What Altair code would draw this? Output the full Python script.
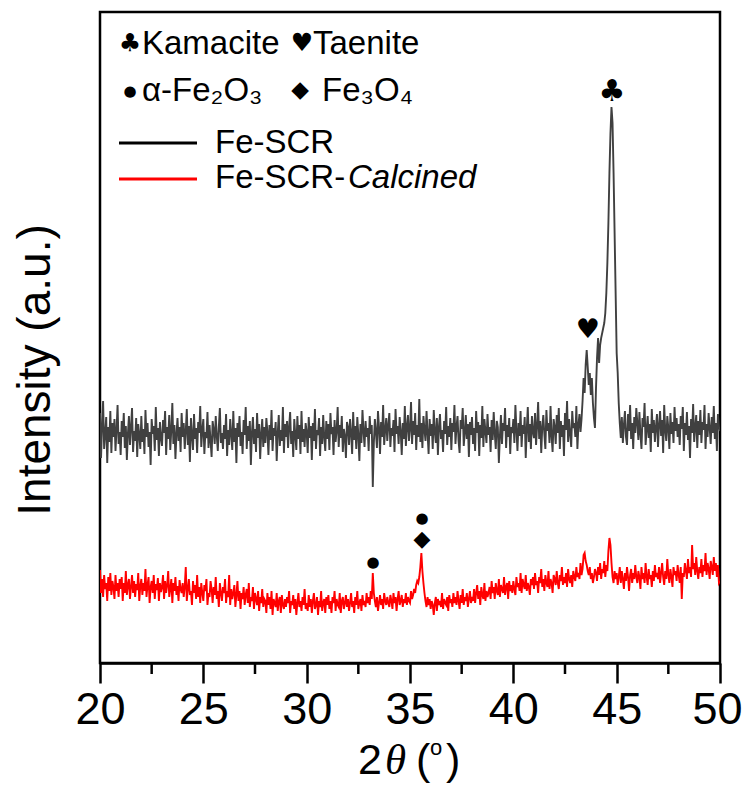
import altair as alt
import numpy as np
import pandas as pd

# ---- data (intensity in arbitrary units) ----
two_theta_start = 20.0
two_theta_step = 0.05

fe_scr = [
    250, 205, 238, 262, 214, 229, 246, 200, 236, 221, 252, 210, 240, 226, 244, 212, 233, 258, 219, 231,
    208, 242, 226, 250, 215, 237, 203, 229, 247, 218, 236, 255, 211, 232, 222, 245, 206, 239, 228, 214,
    247, 221, 234, 209, 253, 226, 240, 216, 231, 198, 244, 229, 237, 212, 256, 223, 235, 207, 241, 225,
    217, 243, 230, 252, 208, 236, 224, 248, 213, 233, 260, 219, 238, 204, 229, 245, 222, 236, 211, 250,
    226, 240, 214, 232, 254, 218, 237, 201, 245, 228, 213, 249, 224, 235, 210, 241, 230, 257, 216, 233,
    244, 209, 231, 225, 251, 215, 238, 222, 206, 242, 233, 219, 247, 227, 212, 236, 255, 220, 230, 214,
    238, 224, 249, 207, 233, 218, 244, 229, 213, 252, 221, 235, 200, 240, 226, 247, 217, 231, 209, 243,
    228, 256, 214, 237, 222, 242, 198, 230, 246, 219, 234, 211, 250, 225, 239, 204, 229, 244, 216, 236,
    220, 245, 231, 208, 238, 223, 253, 212, 235, 227, 241, 202, 230, 248, 217, 233, 222, 256, 210, 239,
    226, 242, 215, 236, 251, 219, 232, 206, 244, 228, 213, 247, 224, 238, 209, 252, 221, 234, 216, 240,
    231, 210, 246, 225, 237, 203, 240, 222, 254, 214, 233, 228, 245, 207, 236, 219, 248, 226, 212, 242,
    224, 239, 213, 250, 229, 236, 208, 243, 221, 232, 256, 216, 238, 225, 247, 211, 234, 227, 205, 241,
    236, 218, 244, 230, 209, 251, 223, 237, 214, 246, 228, 202, 239, 220, 253, 232, 216, 242, 226, 235,
    212, 247, 229, 238, 176, 220, 244, 231, 215, 252, 236, 209, 241, 226, 258, 218, 233, 245, 222, 238,
    250, 216, 235, 227, 243, 211, 254, 229, 237, 219, 246, 232, 208, 240, 224, 257, 217, 236, 248, 222,
    234, 261, 219, 242, 228, 250, 213, 238, 226, 264, 221, 240, 215, 247, 233, 222, 252, 230, 209, 244,
    227, 239, 214, 253, 231, 220, 245, 208, 236, 249, 224, 233, 211, 242, 229, 256, 218, 237, 226, 245,
    213, 240, 231, 258, 219, 236, 247, 222, 210, 243, 234, 255, 217, 230, 248, 224, 239, 206, 241, 228,
    246, 219, 235, 212, 252, 230, 241, 207, 238, 225, 257, 216, 244, 232, 220, 249, 228, 236, 211, 243,
    223, 251, 230, 214, 242, 236, 200, 227, 248, 219, 240, 232, 255, 215, 238, 226, 245, 209, 236, 230,
    244, 220, 258, 233, 212, 240, 227, 252, 216, 238, 229, 246, 205, 234, 256, 221, 239, 214, 247, 231,
    225, 250, 218, 237, 261, 224, 242, 210, 236, 248, 229, 214, 253, 232, 240, 220, 257, 227, 211, 244,
    236, 219, 248, 230, 255, 214, 242, 226, 238, 207, 250, 233, 262, 221, 244, 229, 216, 252, 235, 240,
    226, 257, 214, 238, 249, 231, 244, 262, 285, 270, 298, 313, 296, 278, 290, 268, 285, 260, 245, 235,
    275, 305, 325, 300, 318, 325, 330, 335, 340, 350, 370, 400, 440, 490, 530, 556, 540, 490, 430, 370,
    310, 290, 260, 240, 225, 246, 220, 238, 252, 226, 218, 249, 232, 258, 224, 240, 214, 246, 230, 255,
    240, 223, 251, 229, 214, 245, 236, 260, 218, 233, 247, 225, 239, 211, 254, 230, 243, 221, 236, 249,
    216, 238, 252, 227, 243, 210, 258, 233, 222, 247, 235, 214, 250, 229, 241, 220, 256, 232, 245, 226,
    239, 218, 247, 234, 256, 212, 240, 228, 251, 223, 237, 205, 244, 230, 259, 221, 236, 248, 215, 242,
    228, 253, 220, 241, 233, 258, 214, 239, 226, 250, 235, 219, 246, 230, 257, 224, 240, 212, 249, 236,
    232,
]

fe_scr_calcined = [
    93, 70, 84, 66, 88, 74, 80, 62, 86, 72, 90, 68, 82, 76, 64, 88, 72, 80, 66, 84,
    74, 86, 62, 80, 70, 92, 68, 78, 84, 64, 76, 88, 70, 82, 66, 79, 73, 90, 62, 77,
    84, 68, 80, 72, 94, 66, 78, 86, 60, 76, 82, 70, 88, 64, 79, 73, 85, 62, 80, 71,
    76, 88, 64, 82, 70, 78, 92, 66, 74, 84, 60, 80, 72, 86, 68, 77, 62, 83, 74, 70,
    80, 66, 76, 96, 62, 74, 84, 68, 72, 58, 82, 70, 78, 64, 88, 66, 76, 60, 80, 70,
    62, 78, 72, 84, 58, 70, 66, 82, 74, 60, 76, 68, 86, 64, 72, 56, 80, 70, 62, 76,
    70, 84, 60, 72, 66, 88, 58, 74, 64, 70, 78, 56, 68, 82, 62, 72, 54, 70, 64, 76,
    58, 68, 74, 60, 80, 56, 66, 62, 76, 54, 70, 64, 58, 72, 52, 66, 60, 74, 56, 64,
    62, 50, 70, 58, 66, 54, 72, 48, 64, 60, 56, 70, 52, 62, 66, 50, 68, 58, 54, 64,
    56, 66, 60, 72, 50, 62, 58, 68, 54, 64, 48, 60, 70, 56, 62, 52, 66, 58, 74, 54,
    60, 52, 68, 56, 64, 50, 62, 70, 54, 58, 66, 48, 62, 56, 72, 52, 60, 64, 50, 66,
    58, 68, 54, 62, 50, 66, 60, 72, 52, 64, 58, 56, 70, 50, 62, 66, 54, 60, 68, 56,
    64, 52, 60, 70, 56, 62, 50, 66, 58, 72, 54, 60, 64, 52, 68, 58, 62, 56, 70, 60,
    66, 58, 72, 64, 90, 70, 62, 56, 66, 52, 60, 68, 58, 64, 54, 70, 62, 58, 66, 60,
    56, 68, 62, 54, 70, 60, 66, 52, 64, 72, 58, 62, 68, 56, 64, 60, 70, 58, 66, 62,
    60, 72, 64, 68, 74, 70, 78, 82, 80, 86, 96, 110, 92, 80, 70, 62, 56, 66, 58, 64,
    54, 62, 58, 48, 60, 66, 52, 64, 58, 62, 56, 70, 54, 64, 60, 58, 66, 52, 68, 60,
    64, 56, 70, 60, 66, 58, 72, 62, 54, 68, 60, 74, 58, 66, 62, 70, 56, 64, 72, 60,
    66, 62, 74, 60, 70, 78, 64, 72, 58, 76, 68, 64, 80, 62, 72, 66, 70, 76, 64, 82,
    70, 76, 64, 80, 72, 68, 84, 66, 78, 74, 70, 86, 68, 76, 80, 64, 82, 72, 78, 70,
    82, 74, 68, 86, 76, 80, 72, 90, 70, 84, 78, 74, 88, 72, 80, 76, 68, 84, 78, 86,
    74, 90, 78, 82, 70, 86, 80, 94, 76, 84, 72, 88, 80, 76, 92, 74, 84, 80, 70, 88,
    84, 78, 92, 80, 74, 88, 82, 96, 78, 86, 80, 90, 76, 94, 84, 80, 88, 76, 92, 86,
    82, 96, 86, 90, 84, 100, 88, 94, 108, 110, 102, 98, 92, 88, 96, 84, 90, 80, 86, 94,
    90, 82, 96, 88, 100, 84, 94, 90, 102, 86, 98, 92, 112, 125, 118, 100, 86, 80, 92, 84,
    90, 78, 86, 96, 80, 92, 84, 74, 90, 82, 96, 86, 72, 88, 94, 80, 90, 84, 98, 86,
    80, 92, 86, 74, 96, 84, 90, 80, 100, 86, 78, 94, 84, 88, 76, 92, 82, 98, 86, 90,
    84, 96, 80, 90, 100, 86, 78, 92, 84, 104, 88, 80, 94, 86, 76, 96, 88, 92, 82, 98,
    88, 80, 96, 64, 90, 86, 100, 92, 84, 104, 90, 96, 86, 118, 94, 100, 88, 106, 92, 84,
    96, 90, 104, 86, 98, 92, 110, 88, 100, 94, 84, 102, 96, 88, 106, 92, 100, 86, 98, 80,
    82,
]

series_names = ["Fe-SCR", "Fe-SCR-Calcined"]
series_colors = ["#404040", "#ff0000"]

x_major_ticks = [20, 25, 30, 35, 40, 45, 50]
x_minor_ticks = [22.5, 27.5, 32.5, 37.5, 42.5, 47.5]

peak_club_x, peak_club_y = [44.77], [571]
peak_heart_x, peak_heart_y = [43.61], [333]
peak_dot_x, peak_dot_y = [33.21, 35.58], [101, 145]
peak_diamond_x, peak_diamond_y = [35.58], [124]

# ---- tables ----
def series_frame(values, name):
    tt = np.round(two_theta_start + two_theta_step * np.arange(len(values)), 3)
    return pd.DataFrame({"two_theta": tt, "intensity": values, "series": name})


df = pd.concat([series_frame(fe_scr, series_names[0]),
                series_frame(fe_scr_calcined, series_names[1])])
df_minor = pd.DataFrame({"x": x_minor_ticks})
one = pd.DataFrame({"k": [0]})

FONT = "Liberation Sans, Arial, sans-serif"
SYM = "DejaVu Sans"

xscale = alt.Scale(domain=[20, 50], nice=False, zero=False)
yscale = alt.Scale(domain=[0, 651], nice=False, zero=False)

lines = alt.Chart(df).mark_line(strokeWidth=1.9, clip=True).encode(
    x=alt.X("two_theta:Q", scale=xscale,
            axis=alt.Axis(values=x_major_ticks, tickSize=20, tickWidth=2.5,
                          tickColor="black", domainColor="black", domainWidth=2.5,
                          labelFontSize=45, labelFont=FONT, labelColor="black",
                          labelPadding=4, labelFlush=False, grid=False, title=None,
                          labelOffset={"condition": {"test": "datum.value == 50", "value": -3}, "value": 0},
                          format="d")),
    y=alt.Y("intensity:Q", scale=yscale, axis=None),
    color=alt.Color("series:N", scale=alt.Scale(domain=series_names, range=series_colors), legend=None),
    detail="series:N",
)

minor = alt.Chart(df_minor).mark_rule(color="black", strokeWidth=2.5).encode(
    x=alt.X("x:Q", scale=xscale), y=alt.value(651), y2=alt.value(662)
)


def peak_marks(xs, ys, sym, size):
    d = pd.DataFrame({"x": xs, "y": ys})
    return alt.Chart(d).mark_text(text=sym, font=SYM, fontSize=size, baseline="middle",
                                  align="center", color="black").encode(
        x=alt.X("x:Q", scale=xscale), y=alt.Y("y:Q", scale=yscale))


peaks = [
    peak_marks(peak_club_x, peak_club_y, "\u2663", 30),
    peak_marks(peak_heart_x, peak_heart_y, "\u2665", 27),
    peak_marks(peak_dot_x, peak_dot_y, "\u25cf", 15),
    peak_marks(peak_diamond_x, peak_diamond_y, "\u25c6", 22),
]


def label(text, x, y, size=33, font=FONT, style="normal", align="left", baseline="middle", angle=0):
    return alt.Chart(one).mark_text(text=text, align=align, baseline=baseline, fontSize=size,
                                    font=font, fontStyle=style, color="black", angle=angle).encode(
        x=alt.value(x), y=alt.value(y))


def legline(y, color):
    return alt.Chart(one).mark_rule(color=color, strokeWidth=3).encode(
        x=alt.value(19), x2=alt.value(97), y=alt.value(y))


texts = [
    label("\u2663", 30, 31, size=25, font=SYM, align="center"),
    label("Kamacite", 42, 32),
    label("\u2665", 202, 31, size=25, font=SYM, align="center"),
    label("Taenite", 213, 32),
    label("\u25cf", 30, 79, size=15, font=SYM, align="center"),
    label("\u03b1-Fe\u2082O\u2083", 42, 79),
    label("\u25c6", 200, 78, size=23, font=SYM, align="center"),
    label("Fe\u2083O\u2084", 222, 79),
    legline(131, "black"),
    legline(167, series_colors[1]),
    label("Fe-SCR", 115, 131),
    label("Fe-SCR-", 115, 166),
    label("Calcined", 248, 166, style="italic"),
    # y title
    label("Intensity (a.u.)", -50, 358, size=46, align="center", baseline="alphabetic", angle=270),
    # x title  2θ(°)
    label("2", 258, 762, size=43, baseline="alphabetic"),
    label("\u03b8", 285, 762, size=43, font="Liberation Serif", style="italic", baseline="alphabetic"),
    label("(", 316, 762, size=43, baseline="alphabetic"),
    label("o", 330, 743, size=22, baseline="alphabetic"),
    label(")", 346, 762, size=43, baseline="alphabetic"),
]

chart = alt.layer(lines, minor, *peaks, *texts).properties(
    width=620, height=651,
    autosize=alt.AutoSizeParams(type="none"),
    padding={"left": 92, "top": 4, "right": 22, "bottom": 120},
).configure_view(stroke="black", strokeWidth=2.5).configure_axis(grid=False)

chart.save("out.html", embed_options={"renderer": "svg", "actions": False})
